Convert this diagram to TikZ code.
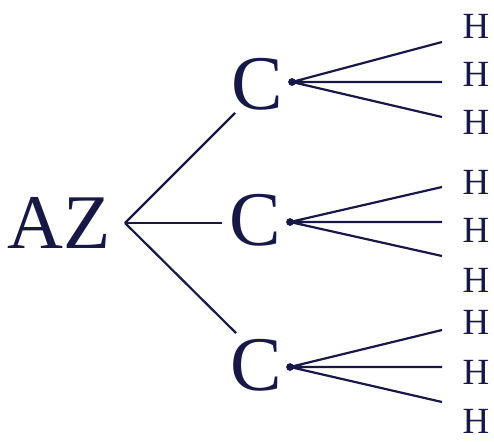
\documentclass[tikz,border=0pt]{standalone}
\usepackage{fontspec}
\setmainfont{Liberation Serif}
\definecolor{ink}{RGB}{24,24,70}
\begin{document}
\begin{tikzpicture}[scale=1, ink, line width=1.25pt,
		big/.style={font=\fontsize{44}{44}\selectfont, inner sep=0pt},
		atom/.style={font=\fontsize{21}{21}\selectfont, inner sep=0pt}]
		\useasboundingbox (0,0) rectangle (9.88,8.82);
		\node[big] (az) at (1.19,4.36) {AZ};
		\coordinate (fork) at (2.5,4.36);
		\node[big] (c1) at (5.14,7.14) {C};
		\node[big] (c2) at (5.10,4.42) {C};
		\node[big] (c3) at (5.12,1.52) {C};
		\draw (fork) -- (4.70,6.56) coordinate (f1);
		\draw (fork) -- (4.44,4.36) coordinate (f2);
		\draw (fork) -- (4.72,2.16) coordinate (f3);
		% bond dots
		\fill (5.84,7.18) circle (2.2pt) coordinate (d1);
		\fill (5.80,4.38) circle (2.2pt) coordinate (d2);
		\fill (5.80,1.48) circle (2.2pt) coordinate (d3);
		% hydrogens
		\node[atom] (h11) at (9.52,8.30) {H};
		\node[atom] (h12) at (9.52,7.34) {H};
		\node[atom] (h13) at (9.52,6.38) {H};
		\node[atom] (h21) at (9.52,5.18) {H};
		\node[atom] (h22) at (9.52,4.22) {H};
		\node[atom] (h23) at (9.52,3.22) {H};
		\node[atom] (h31) at (9.52,2.38) {H};
		\node[atom] (h32) at (9.52,1.38) {H};
		\node[atom] (h33) at (9.52,0.40) {H};
		\coordinate (e11) at (8.84,7.98);
		\coordinate (e12) at (8.84,7.18);
		\coordinate (e13) at (8.84,6.48);
		\coordinate (e21) at (8.84,5.08);
		\coordinate (e22) at (8.84,4.38);
		\coordinate (e23) at (8.84,3.70);
		\coordinate (e31) at (8.84,2.22);
		\coordinate (e32) at (8.84,1.48);
		\coordinate (e33) at (8.84,0.78);
		\draw (d1) -- (e11) (d1) -- (e12) (d1) -- (e13);
		\draw (d2) -- (e21) (d2) -- (e22) (d2) -- (e23);
		\draw (d3) -- (e31) (d3) -- (e32) (d3) -- (e33);
\end{tikzpicture}
\end{document}
